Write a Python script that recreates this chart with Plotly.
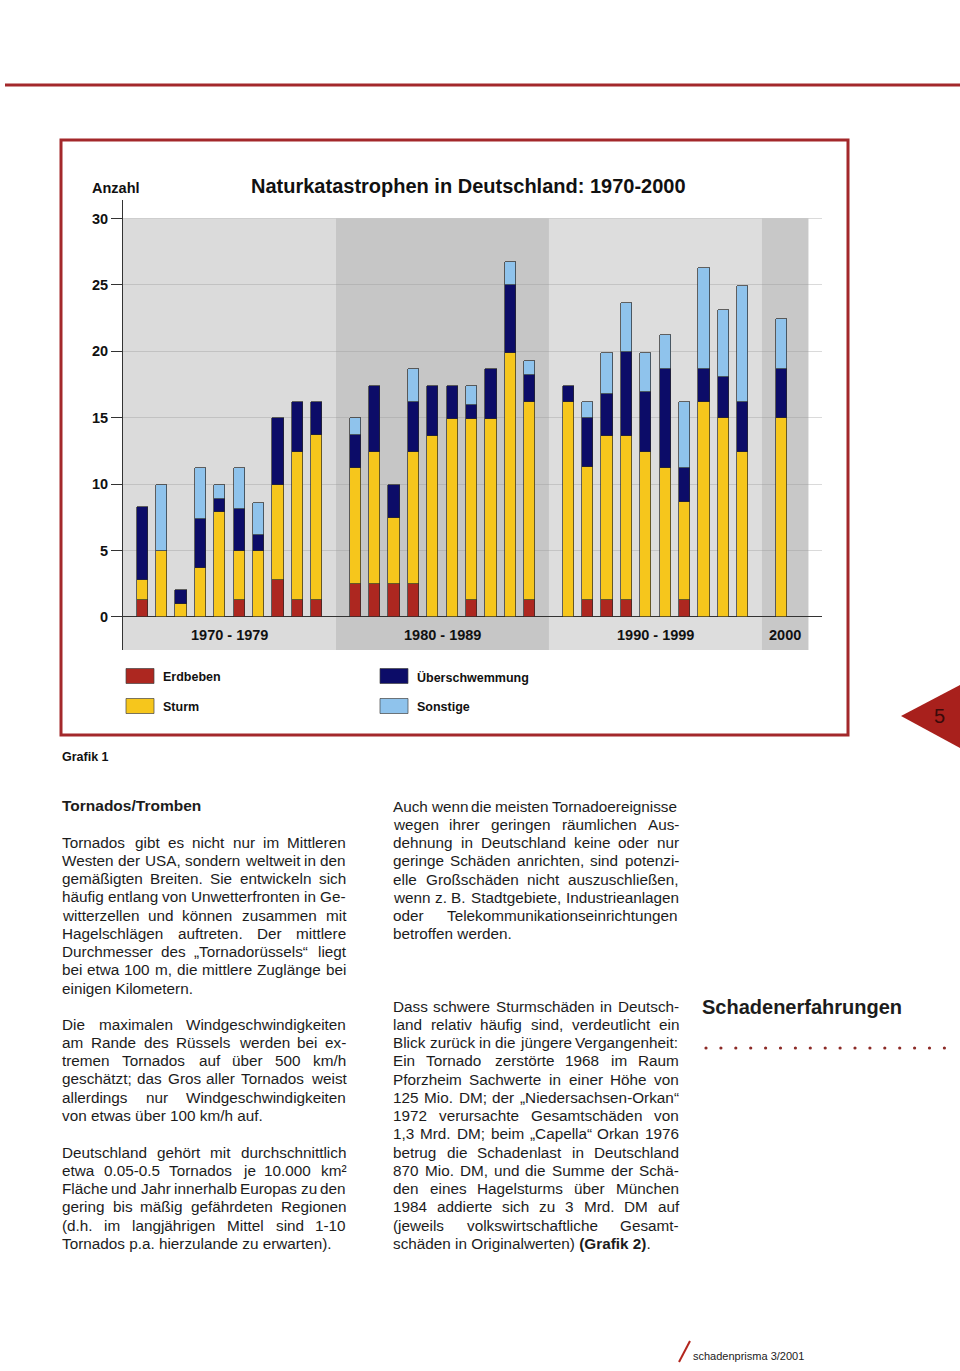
import plotly.graph_objects as go

# ---------------- data ----------------
years = list(range(1970, 2001))
erdbeben = [1.3, 0, 0, 0, 0, 1.3, 0, 2.75, 1.3, 1.3,
            2.5, 2.5, 2.5, 2.5, 0, 0, 1.3, 0, 0, 1.3,
            0, 1.3, 1.3, 1.3, 0, 0, 1.3, 0, 0, 0,
            0]
sturm = [1.45, 4.95, 1.0, 3.7, 7.9, 3.65, 4.95, 7.2, 11.1, 12.4,
         8.7, 9.95, 4.95, 9.95, 13.65, 14.9, 13.6, 14.9, 19.9, 14.9,
         16.2, 9.95, 12.35, 12.35, 12.45, 11.2, 7.35, 16.2, 14.95, 12.45,
         14.95]
ueberschwemmung = [5.55, 0, 1.05, 3.7, 1.0, 3.15, 1.25, 5.0, 3.8, 2.5,
                   2.5, 4.95, 2.5, 3.75, 3.75, 2.5, 1.05, 3.75, 5.1, 2.0,
                   1.2, 3.75, 3.15, 6.3, 4.45, 7.45, 2.55, 2.45, 3.15, 3.75,
                   3.7]
sonstige = [0, 5.0, 0, 3.8, 1.05, 3.1, 2.4, 0, 0, 0,
            1.25, 0, 0, 2.45, 0, 0, 1.45, 0, 1.75, 1.05,
            0, 1.2, 3.1, 3.7, 3.0, 2.55, 5.0, 7.6, 5.0, 8.75,
            3.75]
series_names = ["Erdbeben", "Sturm", "Überschwemmung", "Sonstige"]
series_colors = ["#ad2720", "#f6c61c", "#0c0c68", "#8fc3ec"]
decade_labels = ["1970 - 1979", "1980 - 1989", "1990 - 1999", "2000"]
y_ticks = [0, 5, 10, 15, 20, 25, 30]

# ---------------- helpers ----------------
W, H = 960, 1371
def px(x):
    return x / W
def py(y):
    return 1 - y / H

FONT = "Liberation Sans, Arial, Helvetica, sans-serif"
INK = "#1c1c1c"
FRAME_RED = "#a3282b"

# slot position: each decade has 11 slots, bars at slot 1..10
def xpos(yr):
    return 11 * ((yr - 1970) // 10) + (yr % 10) + 1

xs = [xpos(y) for y in years]

def nz(v):
    return [a if a else None for a in v]

fig = go.Figure()
for name, vals, col in zip(series_names, [erdbeben, sturm, ueberschwemmung, sonstige], series_colors):
    fig.add_trace(go.Bar(
        x=xs, y=nz(vals), name=name, width=0.58,
        marker=dict(color=col, line=dict(color="#2a2a2a", width=0.7)),
        showlegend=False,
        customdata=years,
        hovertemplate="%{customdata}: %{y}<extra>" + name + "</extra>",
    ))

shapes = []
annotations = []

# decade background bands
bands = [(0, 11, "#dbdbdb"), (11, 22, "#c6c6c6"), (22, 33, "#dddddd"), (33, 35.4, "#c8c8c8")]
for (x0, x1, c), lab in zip(bands, decade_labels):
    shapes.append(dict(type="rect", xref="x", yref="y", x0=x0, x1=x1, y0=-2.5, y1=30,
                       fillcolor=c, line=dict(width=0), layer="below"))
    annotations.append(dict(xref="x", yref="y", x=(x0 + x1) / 2, y=-1.35, text="<b>" + lab + "</b>",
                            showarrow=False, font=dict(family=FONT, size=14.5, color="#111"),
                            xanchor="center", yanchor="middle"))

# chart frame and header line
shapes.append(dict(type="rect", xref="paper", yref="paper", x0=px(61), x1=px(848), y0=py(140), y1=py(735),
                   line=dict(color=FRAME_RED, width=3), fillcolor="rgba(0,0,0,0)", layer="below"))
shapes.append(dict(type="line", xref="paper", yref="paper", x0=px(5), x1=px(960), y0=py(85), y1=py(85),
                   line=dict(color=FRAME_RED, width=3)))

# page-number triangle
shapes.append(dict(type="path", xref="paper", yref="paper",
                   path=f"M {px(901)},{py(716)} L {px(960)},{py(685)} L {px(960)},{py(748)} Z",
                   fillcolor="#a8201c", line=dict(width=0)))
annotations.append(dict(xref="paper", yref="paper", x=px(939), y=py(716), text="5", showarrow=False,
                        font=dict(family=FONT, size=20, color="#3a0a0a"), xanchor="center", yanchor="middle"))

# titles in chart
annotations.append(dict(xref="paper", yref="paper", x=px(91), y=py(188), text="<b>Anzahl</b>", showarrow=False,
                        font=dict(family=FONT, size=14.5, color="#111"), xanchor="left", yanchor="middle",
                        borderpad=0))
annotations.append(dict(xref="paper", yref="paper", x=px(250), y=py(186),
                        text="<b>Naturkatastrophen in Deutschland: 1970-2000</b>", showarrow=False,
                        font=dict(family=FONT, size=20, color="#111"), xanchor="left", yanchor="middle",
                        borderpad=0))

# legend (2 x 2)
leg_pos = [(126, 676), (126, 706), (380, 676), (380, 706)]
for (lx, ly), name, col in zip(leg_pos, series_names, series_colors):
    shapes.append(dict(type="rect", xref="paper", yref="paper", x0=px(lx), x1=px(lx + 28),
                       y0=py(ly - 7.5), y1=py(ly + 7.5), fillcolor=col,
                       line=dict(color="#444", width=0.7)))
    annotations.append(dict(xref="paper", yref="paper", x=px(lx + 36), y=py(ly + 1), text="<b>" + name + "</b>",
                            showarrow=False, font=dict(family=FONT, size=12.5, color="#111"),
                            xanchor="left", yanchor="middle", borderpad=0))

annotations.append(dict(xref="paper", yref="paper", x=px(61), y=py(757), text="<b>Grafik 1</b>", showarrow=False,
                        font=dict(family=FONT, size=12.5, color="#111"), xanchor="left", yanchor="middle",
                        borderpad=0))

# ---------------- body text (justified) ----------------
AW = {' ': 278, '!': 278, '"': 355, "'": 191, '(': 333, ')': 333, ',': 278, '-': 333, '.': 278, '/': 278,
      ':': 278, ';': 278, '?': 556,
      'A': 667, 'B': 667, 'C': 722, 'D': 722, 'E': 667, 'F': 611, 'G': 778, 'H': 722, 'I': 278, 'J': 500,
      'K': 667, 'L': 556, 'M': 833, 'N': 722, 'O': 778, 'P': 667, 'Q': 778, 'R': 722, 'S': 667, 'T': 611,
      'U': 722, 'V': 667, 'W': 944, 'X': 667, 'Y': 667, 'Z': 611,
      'a': 556, 'b': 556, 'c': 500, 'd': 556, 'e': 556, 'f': 278, 'g': 556, 'h': 556, 'i': 222, 'j': 222,
      'k': 500, 'l': 222, 'm': 833, 'n': 556, 'o': 556, 'p': 556, 'q': 556, 'r': 333, 's': 500, 't': 278,
      'u': 556, 'v': 500, 'w': 722, 'x': 500, 'y': 500, 'z': 500,
      'ä': 556, 'ö': 556, 'ü': 556, 'Ä': 667, 'Ö': 778, 'Ü': 722, 'ß': 611, '„': 333, '“': 333, '²': 333}
FS = 15.3
LH = 18.25

def tw(s):
    return sum(AW.get(c, 556) for c in s) * FS / 1000

def add_line(text, x0, y, colw, justify):
    if not justify or " " not in text:
        annotations.append(dict(xref="paper", yref="paper", x=px(x0), y=py(y), text=text, showarrow=False,
                                font=dict(family=FONT, size=FS, color=INK), xanchor="left",
                                yanchor="middle", borderpad=0))
        return
    words = text.split(" ")
    total = sum(tw(w) for w in words)
    gap = max(2.0, (colw - total) / (len(words) - 1))
    x = x0
    for w in words:
        annotations.append(dict(xref="paper", yref="paper", x=px(x), y=py(y), text=w, showarrow=False,
                                font=dict(family=FONT, size=FS, color=INK), xanchor="left",
                                yanchor="middle", borderpad=0))
        x += tw(w) + gap

paragraphs = [
    (61, 284, 842, [
        "Tornados gibt es nicht nur im Mittleren",
        "Westen der USA, sondern weltweit in den",
        "gemäßigten Breiten. Sie entwickeln sich",
        "häufig entlang von Unwetterfronten in Ge-",
        "witterzellen und können zusammen mit",
        "Hagelschlägen auftreten. Der mittlere",
        "Durchmesser des „Tornadorüssels“ liegt",
        "bei etwa 100 m, die mittlere Zuglänge bei",
        "einigen Kilometern."]),
    (61, 284, 1024, [
        "Die maximalen Windgeschwindigkeiten",
        "am Rande des Rüssels werden bei ex-",
        "tremen Tornados auf über 500 km/h",
        "geschätzt; das Gros aller Tornados weist",
        "allerdings nur Windgeschwindigkeiten",
        "von etwas über 100 km/h auf."]),
    (61, 284, 1152, [
        "Deutschland gehört mit durchschnittlich",
        "etwa 0.05-0.5 Tornados je 10.000 km²",
        "Fläche und Jahr innerhalb Europas zu den",
        "gering bis mäßig gefährdeten Regionen",
        "(d.h. im langjährigen Mittel sind 1-10",
        "Tornados p.a. hierzulande zu erwarten)."]),
    (392, 286, 806, [
        "Auch wenn die meisten Tornadoereignisse",
        "wegen ihrer geringen räumlichen Aus-",
        "dehnung in Deutschland keine oder nur",
        "geringe Schäden anrichten, sind potenzi-",
        "elle Großschäden nicht auszuschließen,",
        "wenn z. B. Stadtgebiete, Industrieanlagen",
        "oder Telekommunikationseinrichtungen",
        "betroffen werden."]),
    (392, 286, 1006, [
        "Dass schwere Sturmschäden in Deutsch-",
        "land relativ häufig sind, verdeutlicht ein",
        "Blick zurück in die jüngere Vergangenheit:",
        "Ein Tornado zerstörte 1968 im Raum",
        "Pforzheim Sachwerte in einer Höhe von",
        "125 Mio. DM; der „Niedersachsen-Orkan“",
        "1972 verursachte Gesamtschäden von",
        "1,3 Mrd. DM; beim „Capella“ Orkan 1976",
        "betrug die Schadenlast in Deutschland",
        "870 Mio. DM, und die Summe der Schä-",
        "den eines Hagelsturms über München",
        "1984 addierte sich zu 3 Mrd. DM auf",
        "(jeweils volkswirtschaftliche Gesamt-",
        "schäden in Originalwerten) <b>(Grafik 2)</b>."]),
]
for x0, colw, y0, lines in paragraphs:
    for i, ln in enumerate(lines):
        add_line(ln, x0, y0 + i * LH, colw, justify=(i < len(lines) - 1))

annotations.append(dict(xref="paper", yref="paper", x=px(61), y=py(805), text="<b>Tornados/Tromben</b>",
                        showarrow=False, font=dict(family=FONT, size=15.5, color=INK), xanchor="left",
                        yanchor="middle", borderpad=0))
annotations.append(dict(xref="paper", yref="paper", x=px(701), y=py(1007), text="<b>Schadenerfahrungen</b>",
                        showarrow=False, font=dict(family=FONT, size=20, color=INK), xanchor="left",
                        yanchor="middle", borderpad=0))
# dotted rule
for k in range(17):
    cx = 706 + k * 14.9
    shapes.append(dict(type="circle", xref="paper", yref="paper", x0=px(cx - 1.6), x1=px(cx + 1.6),
                       y0=py(1048 - 1.6), y1=py(1048 + 1.6), fillcolor="#8c2a26", line=dict(width=0)))

# footer
shapes.append(dict(type="line", xref="paper", yref="paper", x0=px(679), x1=px(690), y0=py(1362), y1=py(1341),
                   line=dict(color="#b3261e", width=2)))
annotations.append(dict(xref="paper", yref="paper", x=px(692), y=py(1356), text="schadenprisma 3/2001",
                        showarrow=False, font=dict(family=FONT, size=11, color="#222"), xanchor="left",
                        yanchor="middle", borderpad=0))

fig.update_layout(
    width=W, height=H,
    margin=dict(l=0, r=0, t=0, b=0),
    paper_bgcolor="white", plot_bgcolor="white",
    barmode="stack", bargap=0,
    shapes=shapes, annotations=annotations,
    xaxis=dict(domain=[px(123), px(822)], range=[0, 36.1], showgrid=False, zeroline=False,
               showticklabels=False, showline=False, ticks="", fixedrange=True),
    yaxis=dict(domain=[py(650), py(200)], range=[-2.5, 31.4], tickvals=y_ticks,
               ticks="outside", ticklen=11, tickwidth=1, tickcolor="#333",
               showline=True, linecolor="#333", linewidth=1,
               showgrid=True, gridcolor="rgba(150,150,150,0.35)", gridwidth=1,
               zeroline=True, zerolinecolor="#333", zerolinewidth=1,
               tickfont=dict(family=FONT, size=14.5, color="#111", weight="bold"), fixedrange=True),
    showlegend=False,
)

fig.write_html("out.html",
               config={"displayModeBar": False},
               post_script="document.body.style.margin='0';document.body.style.overflow='hidden';"
                           "document.documentElement.style.overflow='hidden';")
